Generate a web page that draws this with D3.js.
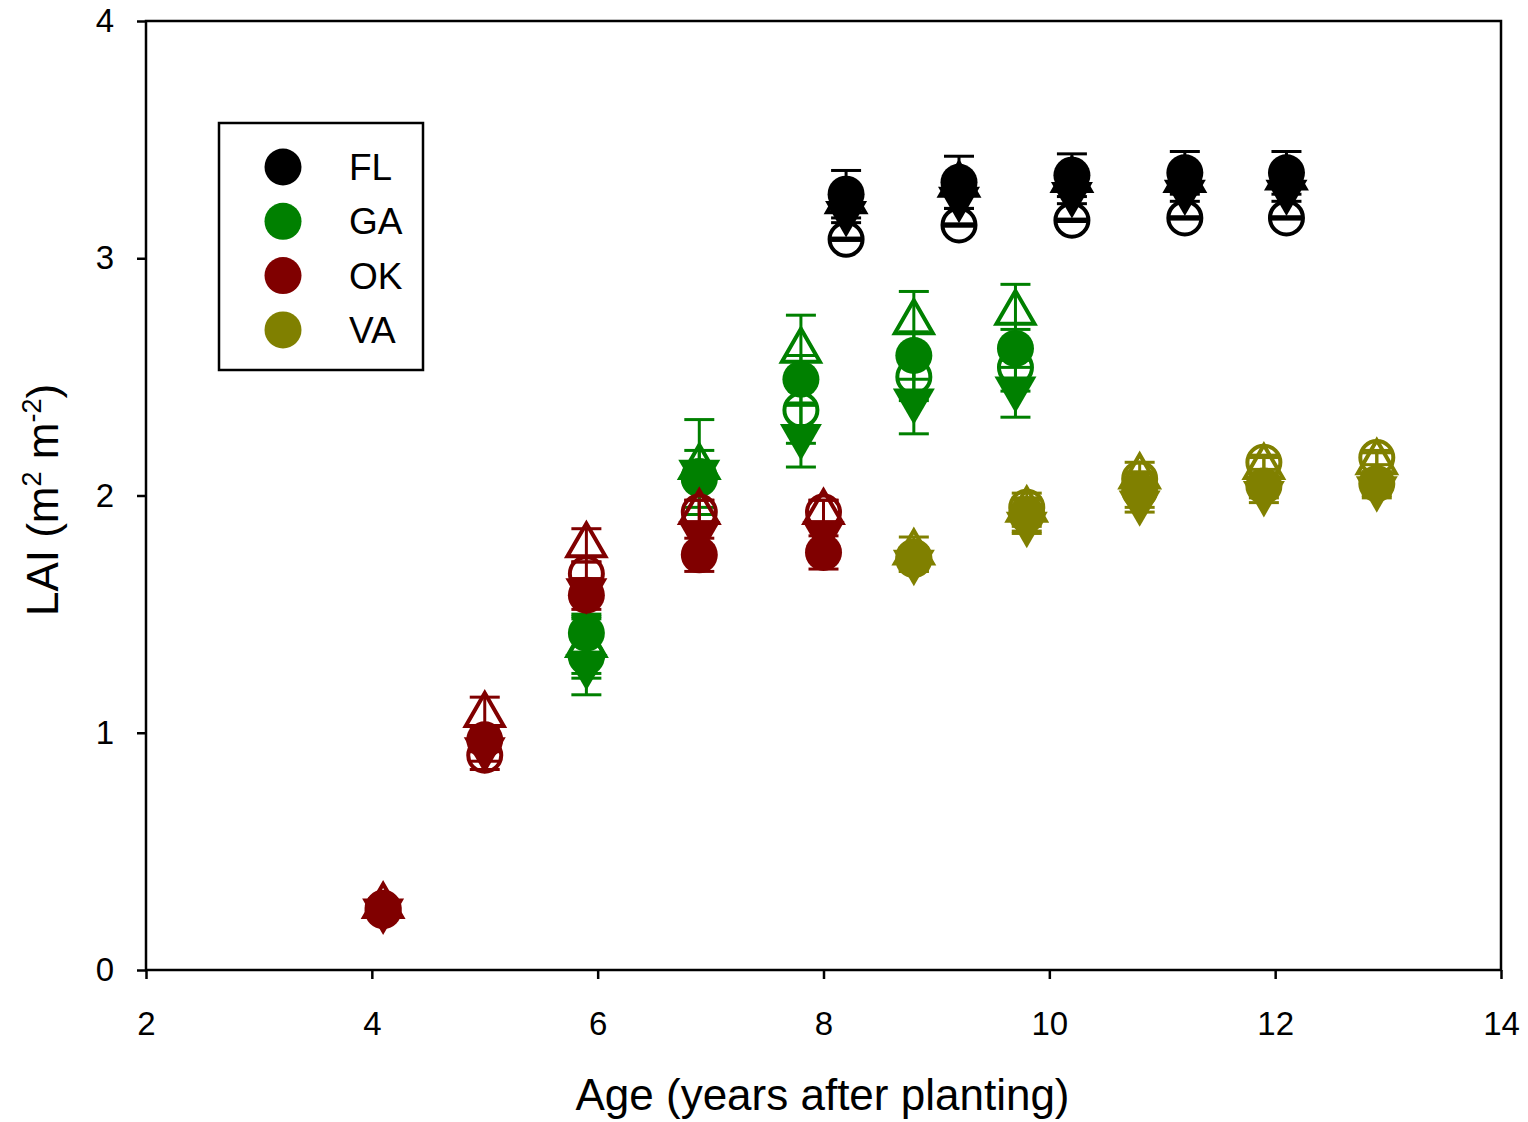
<!DOCTYPE html>
<html>
<head>
<meta charset="utf-8">
<script src="https://cdn.jsdelivr.net/npm/d3@7"></script>
<style>
  html, body { margin: 0; padding: 0; background: #fff; }
  svg { display: block; font-family: "Liberation Sans", Arial, sans-serif; }
</style>
</head>
<body>
<svg id="chart" width="1528" height="1122"></svg>
<script>
// Sites and their colours
const siteNames = ["FL", "GA", "OK", "VA"];
const siteColors = ["#000000", "#008000", "#800000", "#808000"];

// Marker set used for every site (one per treatment series)
const markerShapes = ["circle", "circle", "triangleUp", "triangleDown"];
const markerFilled = [true, false, false, true];

// Stand age (years after planting) per site
const ageFL = [8.2, 9.2, 10.2, 11.2, 12.1];
const ageGA = [5.9, 6.9, 7.8, 8.8, 9.7];
const ageOK = [4.1, 5.0, 5.9, 6.9, 8.0];
const ageVA = [8.8, 9.8, 10.8, 11.9, 12.9];

// LAI per series: [filled circle, open circle, open triangle, filled triangle down]
const laiFL = [
  [3.27, 3.32, 3.35, 3.36, 3.36],
  [3.08, 3.14, 3.16, 3.17, 3.17],
  [3.24, 3.31, 3.33, 3.33, 3.34],
  [3.19, 3.25, 3.27, 3.28, 3.28]
];
const laiGA = [
  [1.42, 2.07, 2.49, 2.59, 2.62],
  [1.32, 2.08, 2.36, 2.50, 2.54],
  [1.37, 2.12, 2.61, 2.73, 2.77],
  [1.28, 2.10, 2.25, 2.40, 2.45]
];
const laiOK = [
  [0.25, 0.97, 1.58, 1.75, 1.76],
  [0.26, 0.905, 1.67, 1.93, 1.93],
  [0.27, 1.075, 1.79, 1.93, 1.93],
  [0.25, 0.93, 1.60, 1.84, 1.84]
];
const laiVA = [
  [1.73, 1.92, 2.02, 2.04, 2.05],
  [1.74, 1.95, 2.07, 2.14, 2.16],
  [1.76, 1.94, 2.08, 2.12, 2.14],
  [1.72, 1.88, 1.97, 2.01, 2.03]
];

// Standard errors, same layout as the LAI arrays
const errFL = [
  [0.10, 0.11, 0.09, 0.09, 0.09],
  [0.005, 0.005, 0.005, 0.005, 0.005],
  [0.04, 0.04, 0.04, 0.04, 0.04],
  [0.04, 0.04, 0.04, 0.04, 0.04]
];
const errGA = [
  [0.08, 0.12, 0.10, 0.10, 0.08],
  [0.16, 0.04, 0.14, 0.10, 0.10],
  [0.12, 0.20, 0.15, 0.13, 0.12],
  [0.05, 0.04, 0.13, 0.14, 0.12]
];
const errOK = [
  [0.03, 0.05, 0.06, 0.07, 0.07],
  [0.03, 0.06, 0.05, 0.05, 0.05],
  [0.03, 0.075, 0.07, 0.05, 0.05],
  [0.03, 0.05, 0.05, 0.05, 0.05]
];
const errVA = [
  [0.05, 0.07, 0.07, 0.05, 0.05],
  [0.03, 0.03, 0.03, 0.03, 0.03],
  [0.065, 0.07, 0.06, 0.04, 0.04],
  [0.04, 0.04, 0.04, 0.04, 0.04]
];

// Axis ticks
const xTicks = [2, 4, 6, 8, 10, 12, 14];
const yTicks = [0, 1, 2, 3, 4];

const siteAges = [ageFL, ageGA, ageOK, ageVA];
const siteLai = [laiFL, laiGA, laiOK, laiVA];
const siteErr = [errFL, errGA, errOK, errVA];

const svg = d3.select("#chart");
const W = 1528, H = 1122;
const margin = { left: 146, top: 21, right: 27, bottom: 152 };

const x = d3.scaleLinear().domain([2, 14]).range([margin.left, W - margin.right]);
const y = d3.scaleLinear().domain([0, 4]).range([H - margin.bottom, margin.top]);

// Axes (outward ticks on bottom and left)
const xAxis = svg.append("g")
  .attr("transform", `translate(0,${y(0)})`)
  .call(d3.axisBottom(x).tickValues(xTicks).tickFormat(d3.format("d")).tickSize(9).tickPadding(33));
const yAxis = svg.append("g")
  .attr("transform", `translate(${x(2)},0)`)
  .call(d3.axisLeft(y).tickValues(yTicks).tickFormat(d3.format("d")).tickSize(9).tickPadding(23));
[xAxis, yAxis].forEach(g => {
  g.select(".domain").remove();
  g.selectAll(".tick line").attr("stroke", "#000").attr("stroke-width", 2.5);
  g.selectAll(".tick text").attr("fill", "#000").style("font-size", "33px")
    .style("font-family", "'Liberation Sans', Arial, sans-serif");
});

// Plot frame
svg.append("rect")
  .attr("x", x(2)).attr("y", y(4))
  .attr("width", x(14) - x(2)).attr("height", y(0) - y(4))
  .attr("fill", "none").attr("stroke", "#000").attr("stroke-width", 2.5);

// Marker path generators
function markerPath(shape, filled) {
  if (shape === "circle") {
    return d3.symbol().type(d3.symbolCircle).size(filled ? Math.PI * 18.5 * 18.5 : Math.PI * 16.5 * 16.5)();
  }
  const side = filled ? 42 : 38;
  return d3.symbol().type(d3.symbolTriangle).size(Math.sqrt(3) / 4 * side * side)();
}

const plot = svg.append("g");
// open symbols first, then filled ones on top; each series draws its error bars under its markers
const drawOrder = [1, 2, 0, 3];

siteNames.forEach((site, si) => {
  const color = siteColors[si];
  const g = plot.append("g").attr("class", "site-" + site);
  const ages = siteAges[si];

  drawOrder.forEach(k => {
    const pts = ages.map((a, i) => ({ a, v: siteLai[si][k][i], e: siteErr[si][k][i] }));
    const shape = markerShapes[k];
    const filled = markerFilled[k];

    const eb = g.selectAll(null).data(pts).enter().append("g")
      .attr("stroke", color).attr("stroke-width", 3);
    eb.append("line")
      .attr("x1", d => x(d.a)).attr("x2", d => x(d.a))
      .attr("y1", d => y(d.v - d.e)).attr("y2", d => y(d.v + d.e));
    eb.append("line")
      .attr("x1", d => x(d.a) - 15).attr("x2", d => x(d.a) + 15)
      .attr("y1", d => y(d.v + d.e)).attr("y2", d => y(d.v + d.e));
    eb.append("line")
      .attr("x1", d => x(d.a) - 15).attr("x2", d => x(d.a) + 15)
      .attr("y1", d => y(d.v - d.e)).attr("y2", d => y(d.v - d.e));

    g.selectAll(null).data(pts).enter().append("path")
      .attr("d", markerPath(shape, filled))
      .attr("transform", d => `translate(${x(d.a)},${y(d.v)})` + (shape === "triangleDown" ? " rotate(180)" : ""))
      .attr("fill", filled ? color : "none")
      .attr("stroke", filled ? "none" : color)
      .attr("stroke-width", 4);
  });
});

// Axis titles
svg.append("text")
  .attr("x", (x(2) + x(14)) / 2 - 1).attr("y", 1110)
  .attr("text-anchor", "middle")
  .style("font-size", "44px")
  .text("Age (years after planting)");

const yt = svg.append("text")
  .attr("transform", "translate(58,500) rotate(-90)")
  .attr("text-anchor", "middle")
  .style("font-size", "44px");
yt.append("tspan").text("LAI (m");
yt.append("tspan").attr("dy", -17).style("font-size", "27px").text("2");
yt.append("tspan").attr("dy", 17).text(" m");
yt.append("tspan").attr("dy", -17).style("font-size", "27px").text("-2");
yt.append("tspan").attr("dy", 17).text(")");

// Legend
const legend = svg.append("g");
legend.append("rect")
  .attr("x", 219).attr("y", 123).attr("width", 204).attr("height", 247)
  .attr("fill", "#fff").attr("stroke", "#000").attr("stroke-width", 2.5);
siteNames.forEach((site, i) => {
  const cy = 167 + i * 54.3;
  legend.append("circle").attr("cx", 283).attr("cy", cy).attr("r", 18.5).attr("fill", siteColors[i]);
  legend.append("text").attr("x", 349).attr("y", cy + 13)
    .style("font-size", "37px").text(site);
});
</script>
</body>
</html>
